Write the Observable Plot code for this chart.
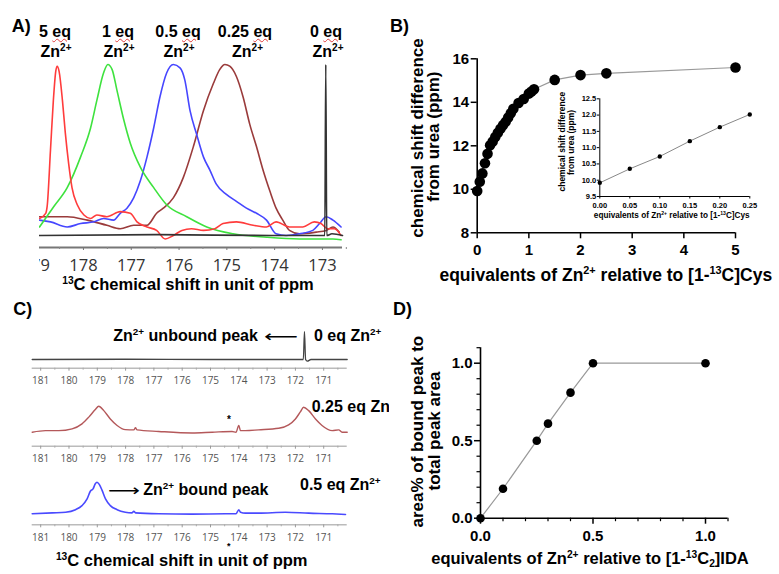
<!DOCTYPE html>
<html><head><meta charset="utf-8">
<script src="https://cdn.jsdelivr.net/npm/d3@7"></script>
<script src="https://cdn.jsdelivr.net/npm/@observablehq/plot@0.6"></script>
<style>
body{margin:0;background:#fff;}
#root{position:relative;width:779px;height:574px;overflow:hidden;background:#fff;}
.alab{position:absolute;font-family:'Liberation Sans',Arial,sans-serif;font-weight:bold;font-size:16px;line-height:16px;height:16px;white-space:nowrap;transform:translateX(-50%);z-index:6;}
.alab .eq{text-decoration-line:underline;text-decoration-style:wavy;text-decoration-color:#e23b3b;text-decoration-thickness:1px;text-underline-offset:1px;}
.alab sup{font-size:10px;position:relative;top:-6px;vertical-align:baseline;line-height:0;}
</style></head><body><div id="root"></div>
<script>
// ---------- Panel A: overlaid 13C spectra (ppm, relative intensity) ----------
const aRedPpm = [178.92,178.79,178.76,178.69,178.63,178.58,178.55,178.51,178.44,178.38,178.31,178.24,178.13,177.99,177.85,177.72,177.51,177.23,177.02,176.88,176.67,176.47,176.29,176.12,175.94,175.74,175.49,175.25,175.08,174.80,174.45,174.17,173.97,173.69,173.41,173.17,173.03,172.89,172.75,172.61];
const aRedInt = [0.10,0.13,0.17,0.50,0.79,0.96,0.99,0.96,0.79,0.60,0.42,0.28,0.18,0.12,0.10,0.12,0.11,0.14,0.13,0.08,0.05,0.03,-0.02,0.00,0.03,0.04,0.03,0.04,0.07,0.08,0.06,0.05,0.08,0.05,0.05,0.08,0.07,0.04,0.04,0.00];
const aGreenPpm = [178.92,178.62,178.34,178.06,177.85,177.72,177.58,177.49,177.40,177.30,177.16,177.02,176.81,176.53,176.26,175.84,175.42,174.87,174.17,173.48,172.78,172.61];
const aGreenInt = [0.05,0.17,0.28,0.46,0.63,0.79,0.95,1.00,0.97,0.85,0.68,0.54,0.40,0.28,0.18,0.11,0.05,0.01,-0.01,-0.02,-0.02,-0.025];
const aBluePpm = [178.92,178.69,178.34,178.06,177.78,177.58,177.37,177.23,177.09,176.95,176.81,176.67,176.53,176.40,176.26,176.12,175.98,175.88,175.77,175.63,175.49,175.35,175.22,175.01,174.80,174.59,174.38,174.17,173.97,173.76,173.48,173.20,173.06,172.92,172.78,172.61];
const aBlueInt = [0.09,0.08,0.05,0.07,0.08,0.10,0.09,0.13,0.16,0.22,0.32,0.46,0.63,0.81,0.95,1.00,0.98,0.91,0.73,0.59,0.46,0.38,0.30,0.24,0.20,0.16,0.13,0.09,0.01,0.00,0.01,0.03,0.07,0.11,0.09,0.05];
const aBrownPpm = [178.92,178.34,177.92,177.51,177.23,176.95,176.67,176.47,176.33,176.12,175.91,175.70,175.49,175.28,175.15,175.04,174.94,174.80,174.66,174.52,174.38,174.24,174.10,173.97,173.83,173.69,173.48,173.13,172.92,172.78,172.65];
const aBrownInt = [0.11,0.11,0.09,0.06,0.04,0.06,0.06,0.13,0.16,0.22,0.34,0.52,0.73,0.89,0.97,1.00,0.99,0.93,0.81,0.65,0.52,0.38,0.26,0.16,0.09,0.03,0.01,0.02,0.03,0.05,0.02];
const aBlackPpm = [178.92,176.5,174.0,173.0,172.95,172.93,172.91,172.8,172.58];
const aBlackInt = [0,0.005,0,0,0,1.0,0,0.01,0];
const aTicks = [179,178,177,176,175,174,173];
const aMinorTicks = [178.5,177.5,176.5,175.5,174.5,173.5,172.5];
const aAxisFloor = -0.07;
const aLabelEqNum = ["5", "1", "0.5", "0.25", "0"];

// ---------- Panel B ----------
const bEq = [0,0.05,0.1,0.15,0.2,0.25,0.3,0.35,0.4,0.45,0.5,0.55,0.6,0.65,0.7,0.8,0.9,1.0,1.05,1.1,1.5,2.0,2.5,5.0];
const bShift = [9.92,10.35,10.73,11.2,11.63,12.02,12.2,12.4,12.6,12.78,12.95,13.1,13.3,13.5,13.7,13.97,14.15,14.4,14.5,14.6,15.03,15.25,15.33,15.6];
const bXTicks = [0,1,2,3,4,5];
const bYTicks = [8,10,12,14,16];
const insetEq = [0,0.05,0.1,0.15,0.2,0.25];
const insetShift = [9.92,10.35,10.73,11.2,11.63,12.02];
const insetXTicks = [0,0.05,0.1,0.15,0.2,0.25];
const insetYTicks = [9.5,10,10.5,11,11.5,12,12.5];

// ---------- Panel C: three stacked spectra ----------
const c0Ppm = [181.3,178.0,175.0,172.0,171.72,171.68,171.64,171.58,171.45,170.17];
const c0Int = [0,0.01,0,0,0,1.0,0,-0.06,0,0];
const c25Ppm = [181.30,180.83,180.36,179.89,179.54,179.30,179.07,178.95,178.77,178.54,178.30,178.01,177.71,177.65,177.60,176.83,175.65,174.94,174.24,174.10,174.00,173.94,173.77,173.30,172.59,172.24,172.00,171.82,171.71,171.53,171.29,171.06,170.70,170.47,170.35,170.17];
const c25Int = [0,0.06,0.06,0.13,0.32,0.58,0.87,1.0,0.83,0.51,0.26,0.10,0.09,0.17,0.09,0.03,-0.03,0,0.03,0,0.26,0.06,0.06,0.09,0.15,0.28,0.51,0.79,0.96,0.83,0.51,0.26,0.06,0.09,0,0];
const c50Ppm = [181.30,180.59,180.12,179.77,179.54,179.36,179.24,179.15,179.07,179.01,178.93,178.83,178.71,178.54,178.30,178.01,177.77,177.71,177.65,176.83,175.65,174.47,174.10,174.00,173.94,173.77,173.30,172.35,171.53,170.70,170.23];
const c50Int = [0,0.03,0.05,0.13,0.26,0.47,0.72,0.79,0.95,1.0,0.93,0.74,0.47,0.26,0.13,0.05,0.03,0.08,0.03,0,-0.01,0,0,0.13,0.05,0.02,0.02,0.05,0.02,0,-0.02];
const cTicks = [181,180,179,178,177,176,175,174,173,172,171];
const cMinorTicks = [180.5,179.5,178.5,177.5,176.5,175.5,174.5,173.5,172.5,171.5,170.5];
const cPpmDomain = [181.3, 170.17];

// ---------- Panel D ----------
const dEq = [0,0.1,0.25,0.3,0.4,0.5,1.0];
const dArea = [0,0.19,0.5,0.61,0.81,1.0,1.0];
const dMajorTicks = [0,0.5,1.0];
const dMinorTicks = [0.1,0.2,0.3,0.4,0.6,0.7,0.8,0.9,1.1];

// ---------------------------------------------------------------
const root = document.getElementById("root");
const SANS = "'Liberation Sans', Arial, sans-serif";
const zip = (xs, ys) => xs.slice(0, Math.min(xs.length, ys.length)).map((x, i) => ({x, y: ys[i]}));
function place(node, left, top, z = 1) {
  node.style.position = "absolute"; node.style.left = left + "px"; node.style.top = top + "px";
  node.style.zIndex = z; root.appendChild(node);
}
const baseStyle = {fontFamily: SANS, background: "transparent", color: "#000", overflow: "hidden"};

// Panel A
const aSeries = [
  [aBrownPpm, aBrownInt, "#9a3b3b"],
  [aBluePpm, aBlueInt, "#4646ff"],
  [aGreenPpm, aGreenInt, "#3ee23e"],
  [aRedPpm, aRedInt, "#ff3c3c"],
  [aBlackPpm, aBlackInt, "#333"]
];
const plotA = Plot.plot({
  width: 310, height: 290, marginLeft: 0, marginRight: 7, marginTop: 0, marginBottom: 43,
  x: {domain: [178.92, 172.58], axis: null},
  y: {domain: [aAxisFloor, 1], range: [247, 64], axis: null},
  style: baseStyle,
  marks: [
    Plot.ruleY([aAxisFloor], {stroke: "#777", strokeWidth: 2}),
    Plot.axisX(aMinorTicks, {label: null, tickSize: 2, stroke: "#888", tickFormat: () => ""}),
    Plot.axisX(aTicks, {label: null, tickSize: 3, tickPadding: 9, stroke: "#777", fill: "#333", fontSize: 16.5, fontFamily: "'Open Sans', sans-serif", tickFormat: d => String(d)}),
    ...aSeries.map(([p, v, c]) => Plot.line(zip(p, v), {x: "x", y: "y", stroke: c, strokeWidth: 1.6, curve: "monotone-x"}))
  ]
});
place(plotA, 39, 0);

// Panel B main
const bRows = zip(bEq, bShift);
const plotB = Plot.plot({
  width: 389, height: 290, marginLeft: 86.7, marginRight: 44, marginTop: 58.3, marginBottom: 57.7,
  x: {domain: [0, 5], axis: null}, y: {domain: [8, 16], axis: null},
  style: baseStyle,
  marks: [
    Plot.ruleY([8], {stroke: "#000", strokeWidth: 1.6}),
    Plot.ruleX([0], {stroke: "#000", strokeWidth: 1.6}),
    Plot.axisX(bXTicks, {label: null, tickSize: 6, tickPadding: 6, strokeWidth: 1.5, fontSize: 15, fontWeight: "bold", fontFamily: SANS}),
    Plot.axisY(bYTicks, {label: null, tickSize: 6, tickPadding: 2, strokeWidth: 1.5, fontSize: 15, fontWeight: "bold", fontFamily: SANS}),
    Plot.line(bRows, {x: "x", y: "y", stroke: "#999", strokeWidth: 1.2}),
    Plot.dot(bRows, {x: "x", y: "y", r: 5.3, fill: "#000"})
  ]
});
place(plotB, 390, 0);

// Panel B inset
const insetRows = zip(insetEq, insetShift);
const plotInset = Plot.plot({
  width: 200, height: 140, marginLeft: 39.3, marginRight: 10.7, marginTop: 13.3, marginBottom: 29,
  x: {domain: [0, 0.25], axis: null}, y: {domain: [9.5, 12.5], axis: null},
  style: baseStyle,
  marks: [
    Plot.ruleY([9.5], {stroke: "#000", strokeWidth: 1}),
    Plot.ruleX([0], {stroke: "#000", strokeWidth: 1}),
    Plot.axisX(insetXTicks, {label: null, tickSize: 2.5, tickPadding: 4, fontSize: 7.5, fontWeight: "bold", fontFamily: SANS, tickFormat: d3.format(".2f")}),
    Plot.axisY(insetYTicks, {label: null, tickSize: 2.5, tickPadding: 1, fontSize: 7.5, fontWeight: "bold", fontFamily: SANS, tickFormat: d3.format(".1f")}),
    Plot.line(insetRows, {x: "x", y: "y", stroke: "#888", strokeWidth: 1}),
    Plot.dot(insetRows, {x: "x", y: "y", r: 2.2, fill: "#000"})
  ]
});
place(plotInset, 560, 85, 2);

// Panel C
function cPlot(ppm, ints, color, sw, top, height, mb, floor, yTopLocal) {
  return [Plot.plot({
    width: 390, height, marginLeft: 31.7, marginRight: 43.3, marginTop: 0, marginBottom: mb,
    x: {domain: cPpmDomain, axis: null},
    y: {domain: [floor, 1], range: [height - mb, yTopLocal], axis: null},
    style: baseStyle,
    marks: [
      Plot.ruleY([floor], {stroke: "#bbb", strokeWidth: 1.5}),
      Plot.axisX(cMinorTicks, {label: null, tickSize: 2, stroke: "#aaa", tickFormat: () => ""}),
      Plot.axisX(cTicks, {label: null, tickSize: 3, tickPadding: 6, stroke: "#999", fill: "#555", fontSize: 10, fontFamily: "'Open Sans', sans-serif", tickFormat: d => String(d)}),
      Plot.line(zip(ppm, ints), {x: "x", y: "y", stroke: color, strokeWidth: sw, curve: "monotone-x"})
    ]
  }), top];
}
const cPlots = [
  cPlot(c0Ppm, c0Int, "#444", 1.3, 320, 70, 22.3, -0.31, 11),
  cPlot(c25Ppm, c25Int, "#b4585a", 1.4, 395, 70, 19.3, -0.538, 10.7),
  cPlot(c50Ppm, c50Int, "#4a4aff", 1.6, 470, 75, 20.7, -0.348, 11.7)
];
for (const [p, top] of cPlots) place(p, 0, top);

// Panel D
const dRows = zip(dEq, dArea);
const plotD = Plot.plot({
  width: 389, height: 284, marginLeft: 90, marginRight: 51.5, marginTop: 57.2, marginBottom: 56.3,
  x: {domain: [0, 1.1], axis: null}, y: {domain: [0, 1.1], axis: null},
  style: baseStyle,
  marks: [
    Plot.ruleY([0], {stroke: "#000", strokeWidth: 1.6}),
    Plot.ruleX([0], {stroke: "#000", strokeWidth: 1.6}),
    Plot.axisX(dMinorTicks, {label: null, tickSize: 3.5, strokeWidth: 1.2, tickFormat: () => ""}),
    Plot.axisY(dMinorTicks, {label: null, tickSize: 3.5, strokeWidth: 1.2, tickFormat: () => ""}),
    Plot.axisX(dMajorTicks, {label: null, tickSize: 6, tickPadding: 6, strokeWidth: 1.5, fontSize: 15, fontWeight: "bold", fontFamily: SANS, tickFormat: d3.format(".1f")}),
    Plot.axisY(dMajorTicks, {label: null, tickSize: 6, tickPadding: 2, strokeWidth: 1.5, fontSize: 15, fontWeight: "bold", fontFamily: SANS, tickFormat: d3.format(".1f")}),
    Plot.line(dRows, {x: "x", y: "y", stroke: "#999", strokeWidth: 1.2}),
    Plot.dot(dRows, {x: "x", y: "y", r: 4.3, fill: "#000"})
  ]
});
place(plotD, 390, 290);

// ---------- Panel A peak labels (HTML, for the wavy underline) ----------
const aLabelBox = document.createElement("div");
aLabelBox.style.cssText = "position:absolute;left:0;top:0;width:344px;height:70px;overflow:hidden;z-index:6;";
root.appendChild(aLabelBox);
const aLabelEqX = [55, 118, 178, 245, 326];
const aLabelZnX = [56, 119, 179, 247.5, 328];
aLabelEqNum.forEach((n, i) => {
  const d = document.createElement("div"); d.className = "alab";
  d.style.left = aLabelEqX[i] + "px"; d.style.top = (37.3 - 13.5) + "px";
  d.innerHTML = `${n} <span class="eq">eq</span>`;
  aLabelBox.appendChild(d);
  const z = document.createElement("div"); z.className = "alab";
  z.style.left = aLabelZnX[i] + "px"; z.style.top = (57.3 - 13.5) + "px";
  z.innerHTML = `Zn<sup>2+</sup>`;
  aLabelBox.appendChild(z);
});

// ---------- Text overlay (titles, labels, annotations) ----------
const ov = d3.create("svg").attr("width", 779).attr("height", 574)
  .style("position", "absolute").style("left", "0px").style("top", "0px").style("z-index", 5)
  .style("pointer-events", "none").style("overflow", "hidden");
const defs = ov.append("defs");
defs.append("clipPath").attr("id", "clipC").append("rect").attr("x", 0).attr("y", 290).attr("width", 389).attr("height", 290);
const gC = ov.append("g").attr("clip-path", "url(#clipC)");
const gAll = ov.append("g");

function txt(g, x, y, parts, {size = 16, weight = "bold", anchor = "start", rotate = false, fill = "#000", family = SANS} = {}) {
  const t = g.append("text").attr("font-family", family).attr("font-size", size).attr("font-weight", weight)
    .attr("fill", fill).attr("text-anchor", anchor);
  if (rotate) t.attr("transform", `translate(${x},${y}) rotate(-90)`).attr("x", 0).attr("y", 0);
  else t.attr("x", x).attr("y", y);
  let cur = 0;
  for (const p of [].concat(parts)) {
    let s, tgt = 0, fs = null;
    if (typeof p === "string") s = p;
    else if (p.sup != null) { s = p.sup; tgt = -size * 0.36; fs = size * 0.62; }
    else if (p.sub != null) { s = p.sub; tgt = size * 0.2; fs = size * 0.62; }
    const ts = t.append("tspan").text(s);
    if (tgt !== cur) ts.attr("dy", tgt - cur);
    cur = tgt;
    if (fs) ts.attr("font-size", fs);
  }
  return t;
}
const ZN = ["Zn", {sup: "2+"}];

// Panel labels
txt(gAll, 11.7, 31.7, "A)", {size: 18});
txt(gAll, 390, 31.7, "B)", {size: 18});
txt(gAll, 13.3, 315, "C)", {size: 18});
txt(gAll, 393, 315, "D)", {size: 18});

// Panel A axis title
txt(gAll, 188, 290, [{sup: "13"}, "C chemical shift in unit of ppm"], {size: 16.5, anchor: "middle"});

// Panel B titles
txt(gAll, 423, 138, "chemical shift difference", {size: 17, anchor: "middle", rotate: true});
txt(gAll, 438.5, 136.7, "from urea (ppm)", {size: 17, anchor: "middle", rotate: true});
txt(gAll, 605.8, 280.7, ["equivalents of Zn", {sup: "2+"}, " relative to [1-", {sup: "13"}, "C]Cys"], {size: 17.5, anchor: "middle"});
txt(gAll, 565, 141.7, "chemical shift difference", {size: 8.5, anchor: "middle", rotate: true});
txt(gAll, 574, 142.5, "from urea (ppm)", {size: 8.5, anchor: "middle", rotate: true});
txt(gAll, 671.7, 218.3, ["equivalents of Zn", {sup: "2+"}, " relative to [1-", {sup: "13"}, "C]Cys"], {size: 8.2, anchor: "middle"});

// Panel C annotations
txt(gC, 113.3, 340.7, ["Zn", {sup: "2+"}, " unbound peak"], {size: 16});
txt(gC, 264, 341.5, "\u27F5", {size: 16, family: "'DejaVu Sans', sans-serif", weight: "normal"}).attr("textLength", 34).attr("lengthAdjust", "spacingAndGlyphs");
txt(gC, 314, 340.7, ["0 eq ", ...ZN], {size: 16});
txt(gC, 311.7, 411.7, ["0.25 eq ", ...ZN], {size: 16});
txt(gC, 229, 423, "*", {size: 10, anchor: "middle"});
txt(gC, 300, 490, ["0.5 eq ", ...ZN], {size: 16});
txt(gC, 108, 495.5, "\u27F6", {size: 16, family: "'DejaVu Sans', sans-serif", weight: "normal"}).attr("textLength", 32).attr("lengthAdjust", "spacingAndGlyphs");
txt(gC, 143.3, 495, ["Zn", {sup: "2+"}, " bound peak"], {size: 16});
txt(gC, 228.7, 549, "*", {size: 9, anchor: "middle"});
txt(gAll, 181.7, 566, [{sup: "13"}, "C chemical shift in unit of ppm"], {size: 16.5, anchor: "middle"});

// Panel D titles
txt(gAll, 423, 431.7, "area% of bound peak to", {size: 17, anchor: "middle", rotate: true});
txt(gAll, 440, 431, "total peak area", {size: 17, anchor: "middle", rotate: true});
txt(gAll, 590, 564, ["equivalents of Zn", {sup: "2+"}, " relative to [1-", {sup: "13"}, "C", {sub: "2"}, "]IDA"], {size: 16.5, anchor: "middle"});

root.appendChild(ov.node());
</script>
</body></html>
